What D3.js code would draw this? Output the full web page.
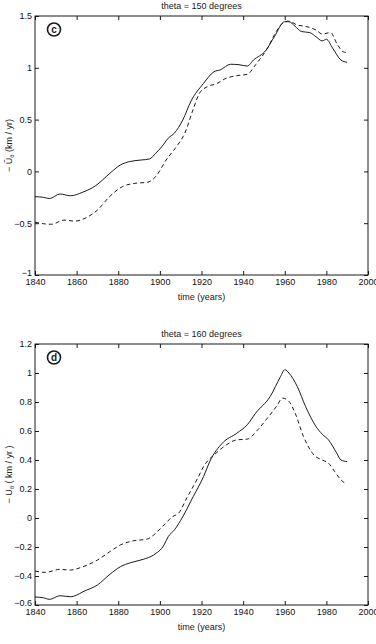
<!DOCTYPE html>
<html>
<head>
<meta charset="utf-8">
<script src="https://cdn.jsdelivr.net/npm/d3@7"></script>
<style>
  body { margin: 0; background: #fff; }
  svg { display: block; font-family: "Liberation Sans", Arial, sans-serif; }
  .tick text { font-size: 9px; fill: #111; }
</style>
</head>
<body>
<div class="chart"></div>
<script>
// x axis (shared)
const yearTicks = [1840, 1860, 1880, 1900, 1920, 1940, 1960, 1980, 2000];

// panel c : theta = 150 degrees
const cTicks = [-1, -0.5, 0, 0.5, 1, 1.5];
const cSolidYears = [1840, 1844, 1847, 1852, 1857, 1863, 1869, 1876, 1881, 1886, 1891, 1895, 1898, 1901, 1904, 1907, 1911, 1915, 1921, 1926, 1929, 1934, 1938, 1942, 1945, 1951, 1955, 1960, 1962, 1965, 1968, 1972, 1975, 1978, 1980, 1983, 1987, 1990];
const cSolidValues = [-0.244, -0.25, -0.262, -0.218, -0.235, -0.2, -0.14, -0.018, 0.062, 0.097, 0.11, 0.12, 0.175, 0.24, 0.32, 0.37, 0.496, 0.68, 0.85, 0.962, 0.98, 1.034, 1.03, 1.017, 1.075, 1.17, 1.30, 1.445, 1.445, 1.40, 1.35, 1.34, 1.30, 1.26, 1.275, 1.19, 1.075, 1.053];
const cDashedYears = [1840, 1844, 1848, 1854, 1859, 1865, 1870, 1876, 1882, 1888, 1894, 1898, 1903, 1908, 1912, 1916, 1919, 1923, 1927, 1932, 1937, 1942, 1946, 1952, 1955, 1959, 1962, 1966, 1970, 1975, 1978, 1982, 1985, 1988, 1990];
const cDashedValues = [-0.49, -0.505, -0.51, -0.47, -0.48, -0.443, -0.373, -0.24, -0.147, -0.115, -0.105, -0.05, 0.11, 0.24, 0.37, 0.6, 0.754, 0.82, 0.845, 0.9, 0.924, 0.937, 1.03, 1.2, 1.317, 1.43, 1.45, 1.413, 1.40, 1.365, 1.326, 1.34, 1.236, 1.155, 1.146];

// panel d : theta = 160 degrees
const dTicks = [-0.6, -0.4, -0.2, 0, 0.2, 0.4, 0.6, 0.8, 1, 1.2];
const dSolidYears = [1840, 1844, 1847, 1852, 1857, 1860, 1863, 1870, 1876, 1881, 1886, 1892, 1897, 1902, 1904, 1907, 1911, 1916, 1921, 1924, 1930, 1937, 1942, 1946, 1953, 1958, 1960, 1962, 1966, 1970, 1975, 1978, 1981, 1985, 1987, 1990];
const dSolidValues = [-0.545, -0.55, -0.561, -0.536, -0.543, -0.532, -0.509, -0.462, -0.388, -0.336, -0.308, -0.285, -0.255, -0.186, -0.129, -0.082, 0.009, 0.147, 0.286, 0.39, 0.516, 0.585, 0.643, 0.723, 0.838, 0.976, 1.023, 1.0, 0.907, 0.769, 0.631, 0.578, 0.539, 0.447, 0.4, 0.389];
const dDashedYears = [1840, 1845, 1852, 1857, 1863, 1870, 1876, 1881, 1887, 1894, 1897, 1902, 1906, 1909, 1913, 1918, 1921, 1927, 1932, 1937, 1942, 1947, 1951, 1956, 1959, 1962, 1965, 1969, 1974, 1978, 1981, 1984, 1987, 1989];
const dDashedValues = [-0.366, -0.375, -0.354, -0.359, -0.336, -0.29, -0.232, -0.186, -0.158, -0.145, -0.117, -0.048, 0.009, 0.033, 0.14, 0.27, 0.355, 0.447, 0.505, 0.539, 0.544, 0.608, 0.677, 0.769, 0.827, 0.804, 0.723, 0.562, 0.435, 0.4, 0.378, 0.32, 0.263, 0.24];

const Width = 376, Height = 644;
const ink = "#1a1a1a";

const svg = d3.select(".chart").append("svg")
  .attr("width", Width)
  .attr("height", Height);

function DrawPanel({Top, Bottom, Title, Letter, Ticks, Solid, Dashed, YLabel, Tilde}) {
  const left = 35, right = 368;
  const x = d3.scaleLinear().domain([1840, 2000]).range([left, right]);
  const y = d3.scaleLinear().domain(d3.extent(Ticks)).range([Bottom, Top]);
  const fmt = d => String(d).replace("-", "\u2212");

  // ticks pointing inward on all four sides
  svg.append("g").attr("transform", `translate(0,${Bottom})`)
    .call(d3.axisBottom(x).tickValues(yearTicks).tickFormat(d3.format("d"))
      .tickSizeInner(-4).tickSizeOuter(0).tickPadding(3.5))
    .call(g => g.select(".domain").remove());
  svg.append("g").attr("transform", `translate(0,${Top})`)
    .call(d3.axisTop(x).tickValues(yearTicks).tickSizeInner(-4).tickSizeOuter(0).tickFormat(""))
    .call(g => g.select(".domain").remove());
  svg.append("g").attr("transform", `translate(${left},0)`)
    .call(d3.axisLeft(y).tickValues(Ticks).tickFormat(fmt).tickSizeInner(-4).tickSizeOuter(0).tickPadding(3))
    .call(g => g.select(".domain").remove())
    // lowest label sits a little higher, as in the original
    .call(g => g.selectAll(".tick text").filter(d => d === Ticks[0]).attr("dy", "0.1em"));
  svg.append("g").attr("transform", `translate(${right},0)`)
    .call(d3.axisRight(y).tickValues(Ticks).tickSizeInner(-4).tickSizeOuter(0).tickFormat(""))
    .call(g => g.select(".domain").remove());
  svg.selectAll(".tick line").attr("stroke", ink);

  // frame
  svg.append("rect")
    .attr("x", left).attr("y", Top)
    .attr("width", right - left).attr("height", Bottom - Top)
    .attr("fill", "none").attr("stroke", ink).attr("stroke-width", 1);

  const line = d3.line()
    .x(d => x(d[0]))
    .y(d => y(d[1]))
    .curve(d3.curveMonotoneX);

  svg.append("path")
    .datum(d3.zip(Solid[0], Solid[1]))
    .attr("d", line)
    .attr("fill", "none").attr("stroke", ink).attr("stroke-width", 1);

  svg.append("path")
    .datum(d3.zip(Dashed[0], Dashed[1]))
    .attr("d", line)
    .attr("fill", "none").attr("stroke", ink).attr("stroke-width", 1)
    .attr("stroke-dasharray", "4,3");

  // title and x label
  svg.append("text")
    .attr("x", (left + right) / 2).attr("y", Top - 7)
    .attr("text-anchor", "middle")
    .style("font-size", "9px").attr("fill", ink)
    .text(Title);
  svg.append("text")
    .attr("x", (left + right) / 2).attr("y", Bottom + 25)
    .attr("text-anchor", "middle")
    .style("font-size", "9px").attr("fill", ink)
    .text("time (years)");

  // y label, rotated
  const yl = svg.append("text")
    .attr("transform", `translate(12,${(Top + Bottom) / 2}) rotate(-90)`)
    .attr("text-anchor", "middle")
    .style("font-size", "9px").attr("fill", ink);
  yl.append("tspan").text(Tilde ? "\u2212 U\u0303" : "\u2212 U");
  yl.append("tspan").attr("dy", 2).style("font-size", "6px").text("\u03b8");
  yl.append("tspan").attr("dy", -2).text(YLabel);

  // circled panel letter
  svg.append("circle")
    .attr("cx", 54).attr("cy", Top + 13.5).attr("r", 6.5)
    .attr("fill", "none").attr("stroke", ink).attr("stroke-width", 1.6);
  svg.append("text")
    .attr("x", 54).attr("y", Top + 13.5).attr("dy", "0.35em")
    .attr("text-anchor", "middle")
    .style("font-size", "10px").style("font-weight", "bold").attr("fill", ink)
    .text(Letter);
}

DrawPanel({
  Top: 16, Bottom: 275, Title: "theta = 150 degrees", Letter: "c",
  Ticks: cTicks, Solid: [cSolidYears, cSolidValues], Dashed: [cDashedYears, cDashedValues],
  YLabel: "  (km / yr)", Tilde: true
});

DrawPanel({
  Top: 344, Bottom: 605, Title: "theta = 160 degrees", Letter: "d",
  Ticks: dTicks, Solid: [dSolidYears, dSolidValues], Dashed: [dDashedYears, dDashedValues],
  YLabel: "  ( km / yr )", Tilde: false
});
</script>
</body>
</html>
